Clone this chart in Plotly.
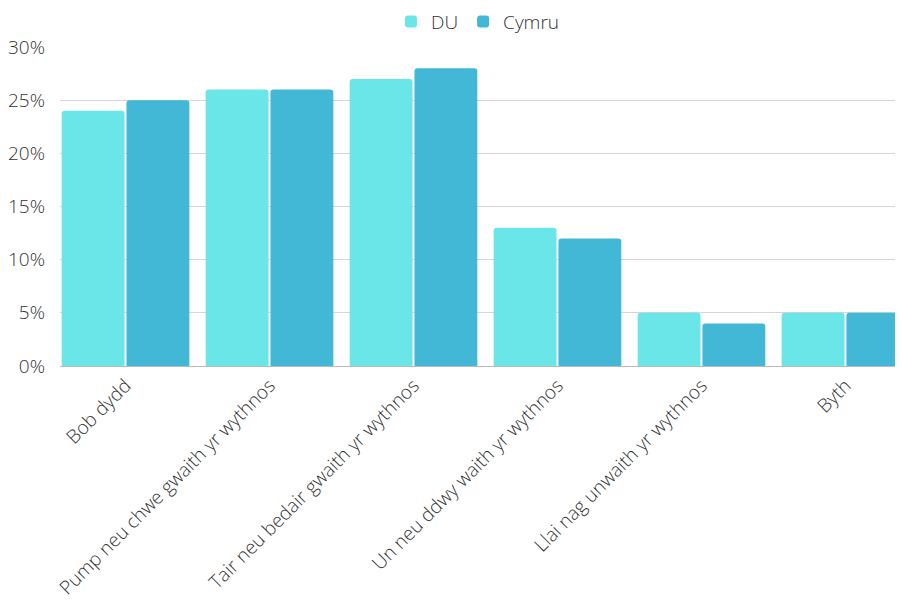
import plotly.graph_objects as go

categories = ["Bob dydd", "Pump neu chwe gwaith yr wythnos", "Tair neu bedair gwaith yr wythnos",
              "Un neu ddwy waith yr wythnos", "Llai nag unwaith yr wythnos", "Byth"]
du_values = [24, 26, 27, 13, 5, 5]
cymru_values = [25, 26, 28, 12, 4, 5]
tick_vals = [0, 5, 10, 15, 20, 25, 30]
tick_text = ["0%", "5%", "10%", "15%", "20%", "25%", "30%"]

fig = go.Figure()
fig.add_trace(go.Bar(name="DU", x=categories, y=du_values, marker_color="#6ae5e8",
                     marker_line_width=0))
fig.add_trace(go.Bar(name="Cymru", x=categories, y=cymru_values, marker_color="#42b7d6",
                     marker_line_width=0))

fnt = dict(family="Open Sans", size=19, color="#333333", weight=300)
fig.update_layout(
    width=887, height=596,
    margin=dict(l=52, r=0, t=39, b=238, autoexpand=False),
    paper_bgcolor="white", plot_bgcolor="white",
    font=fnt,
    barmode="group", bargap=0.1, bargroupgap=0.03, barcornerradius=3,
    legend=dict(orientation="h", x=0.5, xanchor="center", y=1.02, yanchor="bottom",
                font=fnt, itemwidth=30),
    xaxis=dict(range=[-0.455, 5.344], tickangle=-45, showgrid=False, automargin=False,
               showline=True, linecolor="#bbbbbb", linewidth=1, ticks="",
               tickfont=fnt),
    yaxis=dict(range=[0, 30], tickvals=tick_vals, ticktext=tick_text, automargin=False,
               showgrid=True, gridcolor="#d6d6d6", gridwidth=1, zeroline=False,
               ticks="", ticklabelstandoff=14,
               tickfont=fnt),
)
fig.write_html("out.html")
